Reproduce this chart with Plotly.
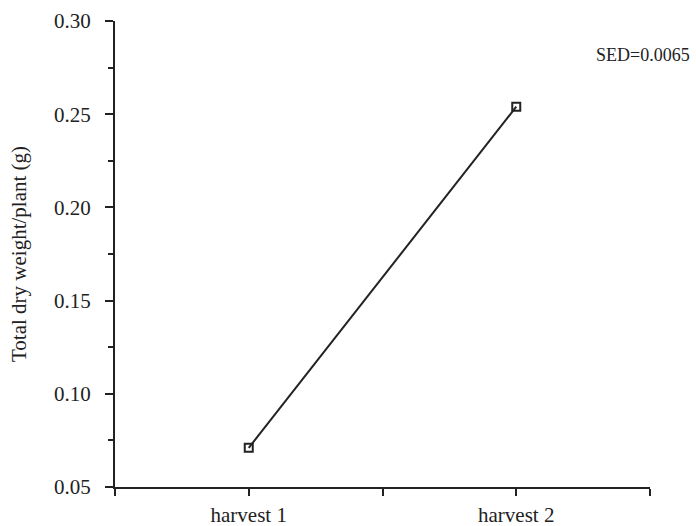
import plotly.graph_objects as go

categories = ["harvest 1", "harvest 2"]
x_pos = [1, 2]
dry_weight = [0.071, 0.254]
y_ticks = [0.05, 0.10, 0.15, 0.20, 0.25, 0.30]
y_tick_labels = ["0.05", "0.10", "0.15", "0.20", "0.25", "0.30"]
sed_text = "SED=0.0065"

font_family = "Liberation Serif, Times New Roman, serif"

fig = go.Figure()
fig.add_trace(go.Scatter(
    x=x_pos, y=dry_weight, mode="lines+markers",
    line=dict(color="#222", width=2),
    marker=dict(symbol="square-open", size=8, color="#222", line=dict(width=2)),
    showlegend=False, hoverinfo="skip",
))

fig.update_layout(
    width=696, height=526,
    margin=dict(l=115, r=46, t=21, b=39),
    plot_bgcolor="white", paper_bgcolor="white",
    font=dict(family=font_family, color="#222", size=21),
    xaxis=dict(
        range=[0.5, 2.5],
        tickvals=[0.5, 1, 1.5, 2, 2.5],
        ticktext=["", categories[0], "", categories[1], ""],
        ticks="outside", ticklen=7, tickwidth=2, tickcolor="#222",
        ticklabelstandoff=1, automargin=False,
        showline=True, linewidth=2, linecolor="#222",
        showgrid=False, zeroline=False,
        tickfont=dict(size=21),
    ),
    yaxis=dict(
        range=[0.05, 0.30],
        tickvals=y_ticks, ticktext=y_tick_labels,
        ticks="outside", ticklen=8, tickwidth=2, tickcolor="#222",
        ticklabelstandoff=10, automargin=False,
        minor=dict(dtick=0.025, tick0=0.05, ticks="outside", ticklen=5, tickwidth=2, tickcolor="#222"),
        showline=True, linewidth=2, linecolor="#222",
        showgrid=False, zeroline=False,
        title=dict(text="Total dry weight/plant (g)", font=dict(size=21), standoff=22),
        tickfont=dict(size=21),
    ),
    annotations=[dict(
        text=sed_text, xref="paper", yref="paper", x=1.078, y=0.927,
        xanchor="right", yanchor="middle", showarrow=False,
        font=dict(size=18, family=font_family, color="#222"),
    )],
)

fig.write_html("out.html")
